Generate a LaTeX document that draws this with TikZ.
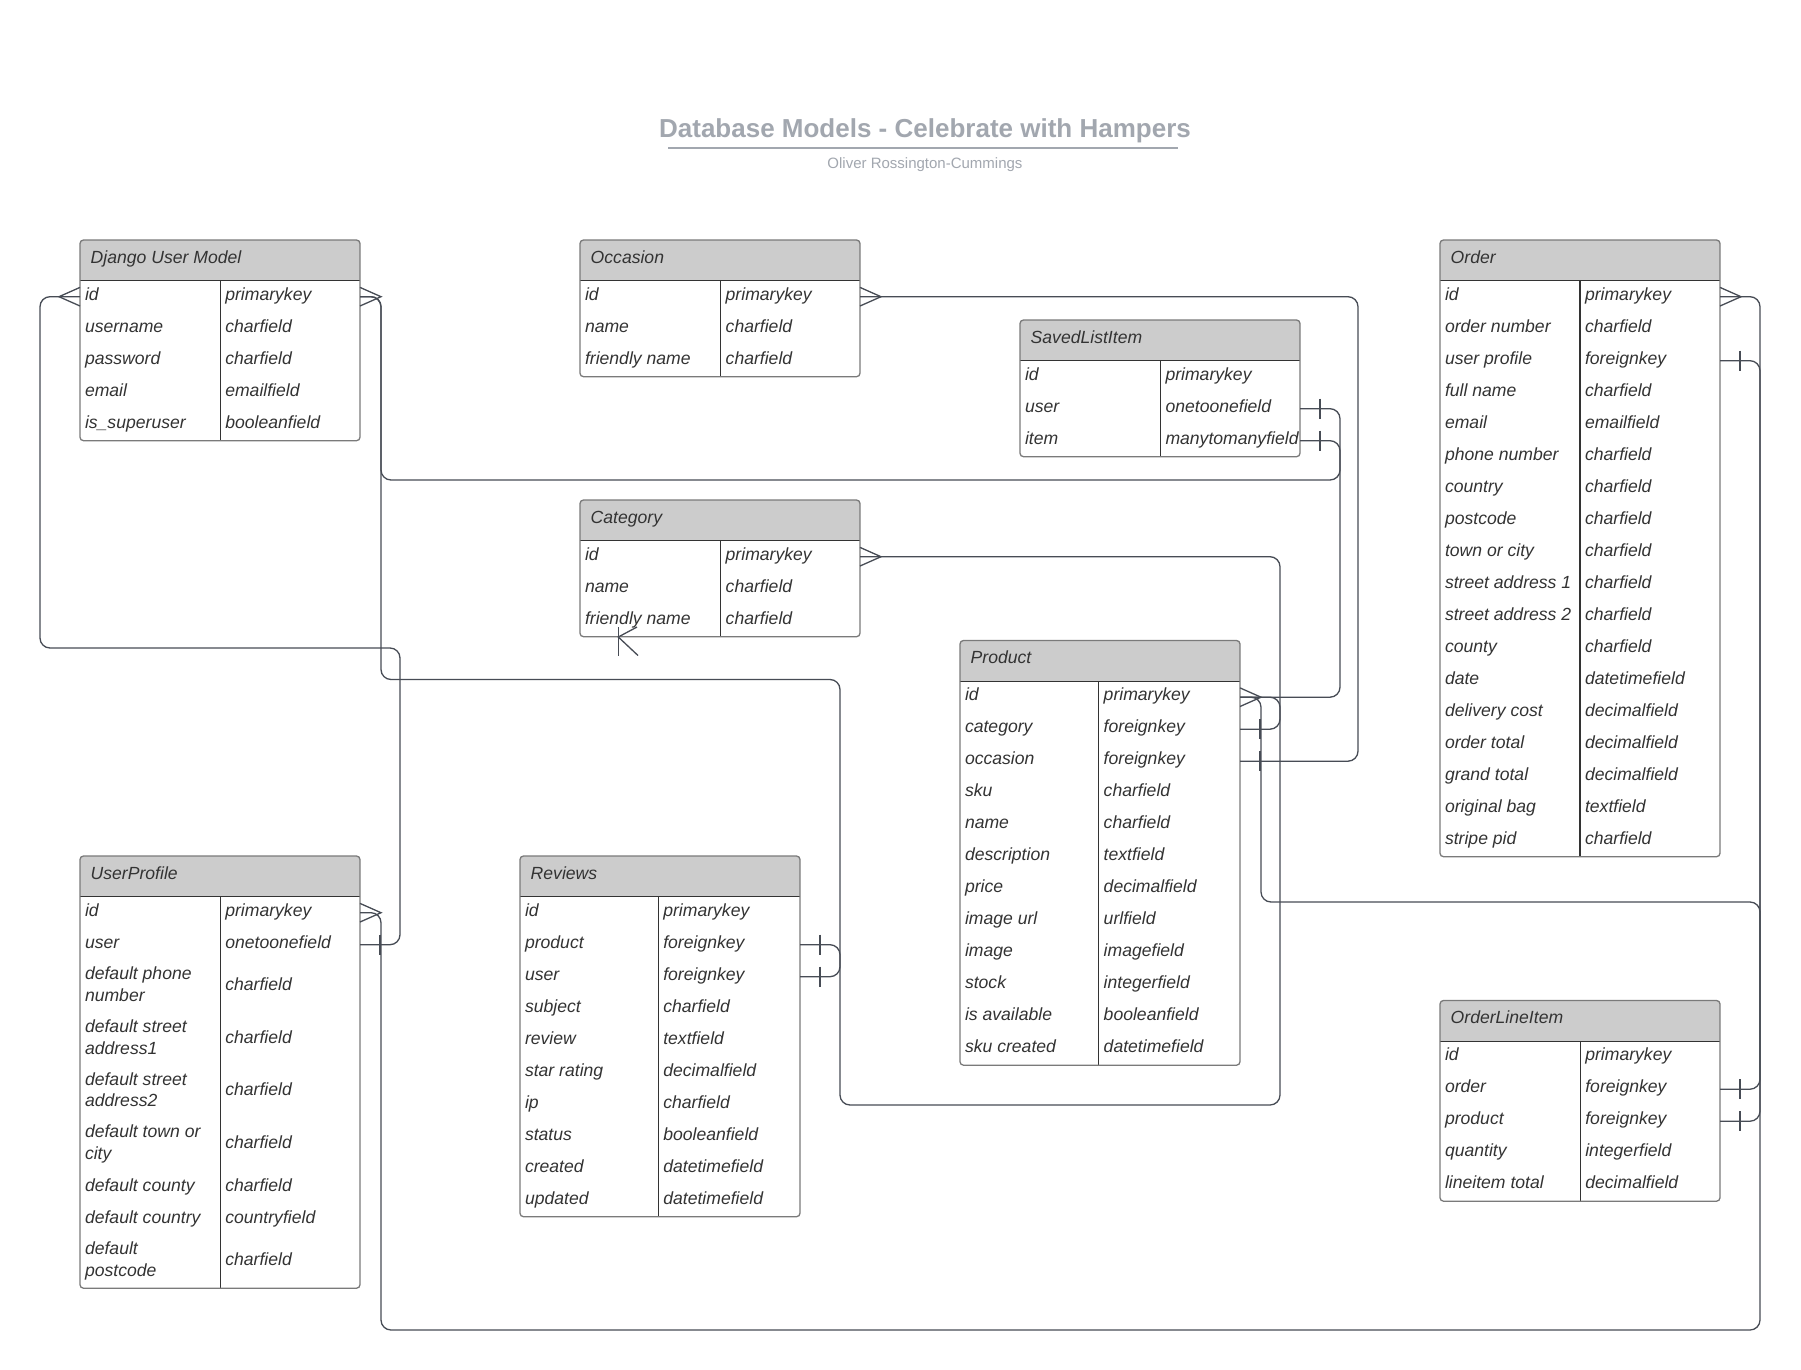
\documentclass[tikz,border=0pt]{standalone}
\usepackage{fontspec}
\setmainfont{Liberation Sans}
\usetikzlibrary{calc}
\definecolor{hdrfill}{HTML}{CCCCCC}
\definecolor{tblborder}{HTML}{7A7A7A}
\definecolor{tbldark}{HTML}{333333}
\definecolor{connc}{HTML}{474C55}
\definecolor{txtc}{HTML}{333333}
\definecolor{ttlc}{HTML}{A2A7AF}
\tikzset{
  rowbox/.style={minimum width=280pt, minimum height=32pt, inner sep=0pt, outer sep=0pt, anchor=north west},
  ct/.style={anchor=base west, inner sep=0pt, outer sep=0pt, text=txtc, font=\fontsize{17.6}{21.7}\selectfont\itshape},
  connline/.style={draw=connc, line width=1.3pt, rounded corners=10pt},
  endline/.style={draw=connc, line width=1.3pt},
  tblout/.style={draw=tblborder, line width=1.3pt, rounded corners=3.5pt},
  tblsep/.style={draw=tbldark, line width=1.4pt},
}
% header fill, title, separator, divider and outline of a table
\newcommand\erframe[6]{% #1 prefix #2 x #3 y #4 divider offset #5 title #6 bottom
  \begin{scope}
    \clip[rounded corners=3.5pt] (#2,#3) rectangle (#2+280,#6);
    \fill[hdrfill] (#2,#3) rectangle (#2+280,#3+40.7);
  \end{scope}
  \node[ct] (#1-t) at (#2+10.7,#3+23.3) {#5};
  \draw[tblsep] (#2,#3+40.7) -- (#2+280,#3+40.7);
  \draw[tblsep, line width=1.2pt] (#2+#4,#3+40.7) -- (#2+#4,#6);
  \draw[tblout] (#2,#3) rectangle (#2+280,#6);
}
\newcommand\ertable[6]{% #1 prefix #2 x #3 y #4 divider offset #5 title #6 rows
  \foreach \l/\r [count=\i] in {#6} {%
    \node[rowbox] (#1-\i) at (#2,#3+40.7+32*\i-32) {};
    \node[ct] (#1-\i-a) at (#2+5,#3+40.7+32*\i-12.5) {\l};
    \node[ct] (#1-\i-b) at (#2+#4+5,#3+40.7+32*\i-12.5) {\r};
    \xdef\ern{\i}%
  }%
  \pgfmathsetmacro\erbot{#3+40.7+32*\ern}%
  \erframe{#1}{#2}{#3}{#4}{#5}{\erbot}%
}
\newcommand\crowR[1]{\draw[endline] ($(#1)+(0,-9.3)$) -- ($(#1)+(21,0)$) -- ($(#1)+(0,9.3)$);}
\newcommand\crowL[1]{\draw[endline] ($(#1)+(0,-9.3)$) -- ($(#1)+(-21,0)$) -- ($(#1)+(0,9.3)$);}
\newcommand\barR[1]{\draw[endline] ($(#1)+(20,-10)$) -- ($(#1)+(20,10)$);}
\begin{document}
\begin{tikzpicture}[x=1pt,y=-1pt]
\useasboundingbox (0,0) rectangle (1801,1370);
\fill[white] (0,0) rectangle (1801,1370);

% title
\node[font=\fontsize{26}{30}\selectfont\bfseries, text=ttlc, anchor=base, inner sep=0pt] (title) at (925,137.5) {Database Models - Celebrate with Hampers};
\draw[ttlc, line width=2pt] (668,148) -- (1178,148);
\node[font=\fontsize{15}{18}\selectfont, text=ttlc, anchor=base, inner sep=0pt] (subtitle) at (925,168) {Oliver Rossington-Cummings};

% tables
\ertable{dj}{80}{240}{140.3}{Django User Model}{id/primarykey, username/charfield, password/charfield, email/emailfield, is\_superuser/booleanfield}
\ertable{oc}{580}{240}{140.7}{Occasion}{id/primarykey, name/charfield, friendly name/charfield}
\ertable{sli}{1020}{320}{140.5}{SavedListItem}{id/primarykey, user/onetoonefield, item/manytomanyfield}
\ertable{cat}{580}{500}{140.7}{Category}{id/primarykey, name/charfield, friendly name/charfield}
\ertable{pr}{960}{640.5}{138.7}{Product}{id/primarykey, category/foreignkey, occasion/foreignkey, sku/charfield, name/charfield, description/textfield, price/decimalfield, image url/urlfield, image/imagefield, stock/integerfield, is available/booleanfield, sku created/datetimefield}
\ertable{or}{1440}{240}{140}{Order}{id/primarykey, order number/charfield, user profile/foreignkey, full name/charfield, email/emailfield, phone number/charfield, country/charfield, postcode/charfield, town or city/charfield, street address 1/charfield, street address 2/charfield, county/charfield, date/datetimefield, delivery cost/decimalfield, order total/decimalfield, grand total/decimalfield, original bag/textfield, stripe pid/charfield}
\ertable{rv}{520}{856}{138.3}{Reviews}{id/primarykey, product/foreignkey, user/foreignkey, subject/charfield, review/textfield, star rating/decimalfield, ip/charfield, status/booleanfield, created/datetimefield, updated/datetimefield}
\ertable{oli}{1440}{1000.5}{140.3}{OrderLineItem}{id/primarykey, order/foreignkey, product/foreignkey, quantity/integerfield, lineitem total/decimalfield}

% UserProfile (rows of two heights)
\foreach \t/\h/\dd/\la/\lb/\r [count=\i] in {
  896.7/32/0/id//primarykey,
  928.7/32/0/user//onetoonefield,
  960.7/52.7/1/default phone/number/charfield,
  1013.4/52.7/1/default street/address1/charfield,
  1066.1/52.7/1/default street/address2/charfield,
  1118.8/52.7/1/default town or/city/charfield,
  1171.5/32/0/default county//charfield,
  1203.5/32/0/default country//countryfield,
  1235.5/52.7/1/default/postcode/charfield} {%
  \node[rowbox, minimum height=\h] (up-\i) at (80,\t) {};
  \ifnum\dd=1
    \node[ct] (up-\i-a) at (85,\t+\h/2+3.5-10.85) {\la};
    \node[ct] (up-\i-c) at (85,\t+\h/2+3.5+10.85) {\lb};
  \else
    \node[ct] (up-\i-a) at (85,\t+\h/2+3.5) {\la};
  \fi
  \node[ct] (up-\i-b) at (225.3,\t+\h/2+3.5) {\r};
}
\erframe{up}{80}{856}{140.3}{UserProfile}{1288.2}

% connectors
\draw[connline] (dj-1.west) -| (40,648) -| ([xshift=40pt]up-2.east) -- (up-2.east);
\draw[connline] (dj-1.east) -| (381,480) -| ([xshift=40pt]sli-2.east) -- (sli-2.east);
\draw[connline] (dj-1.east) -| (381,679.5) -| ([xshift=40pt]rv-3.east) -- (rv-3.east);
\draw[connline] (up-1.east) -| (381,1330) -| ([xshift=40pt]or-3.east) -- (or-3.east);
\draw[connline] (or-1.east) -| ([xshift=40pt]oli-2.east) -- (oli-2.east);
\draw[connline] (pr-1.east) -| (1261,902) -| ([xshift=40pt]oli-3.east) -- (oli-3.east);
\draw[connline] (cat-1.east) -| ([xshift=40pt]pr-2.east) -- (pr-2.east);
\draw[connline] (pr-1.east) -| (1280,1105) -| ([xshift=40pt]rv-2.east) -- (rv-2.east);
\draw[connline] (oc-1.east) -| ([xshift=118pt]pr-3.east) -- (pr-3.east);
\draw[connline] (sli-3.east) -| ([xshift=100pt]pr-1.east) -- (pr-1.east);

% ends: many
\crowL{dj-1.west}
\crowR{dj-1.east}
\crowR{up-1.east}
\crowR{or-1.east}
\crowR{pr-1.east}
\crowR{cat-1.east}
\crowR{oc-1.east}
% ends: one
\barR{up-2.east}
\barR{sli-2.east}
\barR{sli-3.east}
\barR{rv-2.east}
\barR{rv-3.east}
\barR{or-3.east}
\barR{oli-2.east}
\barR{oli-3.east}
\barR{pr-2.east}
\barR{pr-3.east}

% loose end mark on Category
\draw[endline] (618.3,627) -- (618.3,655.5);
\draw[endline] (637,627) -- (618.3,637) -- (638,655.5);
\end{tikzpicture}
\end{document}
